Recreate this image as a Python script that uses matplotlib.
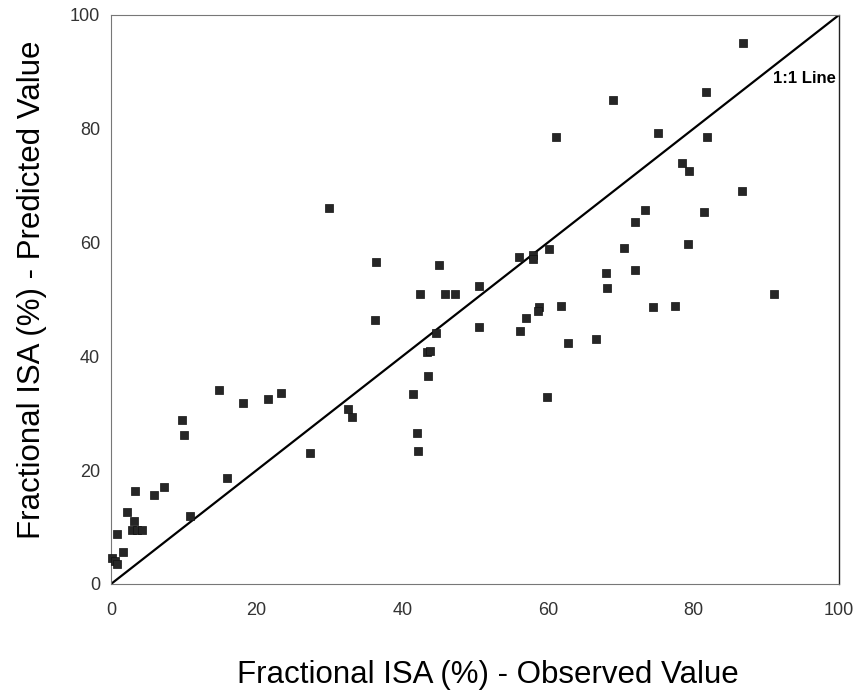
import matplotlib
matplotlib.use("Agg")
import matplotlib.pyplot as plt

plt.rcParams['font.family'] = ['Liberation Sans', 'DejaVu Sans']

# observed vs predicted fractional ISA (%)
observed = [0.2, 0.5, 0.8, 0.8, 1.7, 2.2, 3.1, 2.9, 3.5, 4.2, 3.3, 5.9, 7.3,
            9.7, 10.0, 10.8, 14.9, 15.9, 18.1, 21.6, 23.4, 27.3, 29.9,
            32.6, 33.1, 36.2, 36.4, 41.5, 42.0, 42.2, 42.5, 43.4, 43.8,
            43.6, 44.6, 45.1, 45.9, 47.2, 50.5, 50.5, 56.1, 56.2, 57.0,
            58.0, 57.9, 58.8, 58.7, 59.9, 60.2, 61.1, 61.8, 62.8, 66.6,
            68.0, 68.2, 69.0, 70.4, 72.0, 72.0, 73.3, 74.5, 75.2, 77.5,
            78.5, 79.4, 79.3, 81.4, 81.8, 81.9, 86.7, 86.8, 91.1]
predicted = [4.5, 4.0, 3.6, 8.8, 5.6, 12.6, 11.1, 9.5, 9.5, 9.5, 16.3, 15.6,
             17.1, 28.9, 26.2, 12.0, 34.1, 18.7, 31.8, 32.5, 33.5, 23.1,
             66.0, 30.8, 29.4, 46.4, 56.5, 33.4, 26.6, 23.4, 51.0, 40.7,
             40.9, 36.6, 44.1, 56.1, 50.9, 50.9, 52.3, 45.2, 57.5, 44.5,
             46.8, 57.8, 57.1, 48.6, 47.9, 32.9, 58.8, 78.6, 48.9, 42.4,
             43.1, 54.7, 52.0, 85.0, 59.1, 63.6, 55.1, 65.7, 48.6, 79.3,
             48.9, 74.0, 72.5, 59.7, 65.4, 86.4, 78.6, 69.1, 95.0, 51.0]
one_to_one = [0, 100]
ticks = [0, 20, 40, 60, 80, 100]

fig = plt.figure(figsize=(8.62, 6.93), dpi=100)
ax = fig.add_axes([0.1288, 0.1573, 0.8445, 0.8211])

ax.plot(one_to_one, one_to_one, color="black", linewidth=1.6, zorder=2)
ax.scatter(observed, predicted, marker="s", s=40, color="#262626",
           edgecolors="#111111", linewidths=0.5, zorder=3, clip_on=False)
ax.text(99.6, 88.8, "1:1 Line", fontsize=12, fontweight="bold",
        ha="right", va="center")

ax.set_xlim(0, 100)
ax.set_ylim(0, 100)
ax.set_xticks(ticks)
ax.set_yticks(ticks)
ax.tick_params(length=0, labelsize=13, labelcolor="#333333")
ax.tick_params(axis="x", pad=13)
ax.tick_params(axis="y", pad=8)

for side in ["top", "bottom", "left"]:
    ax.spines[side].set_color("#777777")
    ax.spines[side].set_linestyle((0, (1, 1)))
    ax.spines[side].set_linewidth(0.8)
ax.spines["right"].set_color("#222222")
ax.spines["right"].set_linewidth(1.0)

ax.set_xlabel("Fractional ISA (%) - Observed Value", fontsize=22.5)
ax.set_ylabel("Fractional ISA (%) - Predicted Value", fontsize=22.5)
ax.xaxis.set_label_coords(0.518, -0.134)
ax.yaxis.set_label_coords(-0.088, 0.517)

fig.savefig("out.png", dpi=100)
